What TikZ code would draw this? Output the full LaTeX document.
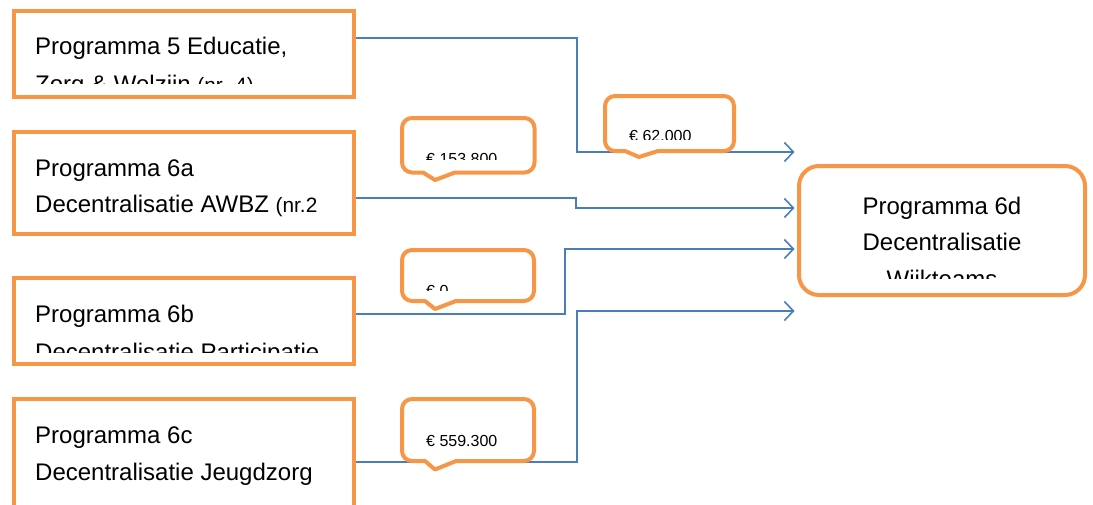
\documentclass[tikz,border=0pt]{standalone}
\usepackage{fontspec}
\setmainfont{Liberation Sans}
\usetikzlibrary{arrows.meta}
\definecolor{boxorange}{HTML}{F79646}
\definecolor{flowblue}{HTML}{4A7EBB}
\newcommand{\nrfont}{\fontsize{20.8}{24}\selectfont}

\begin{document}
\begin{tikzpicture}[x=1pt,y=-1pt]

    \tikzset{
      prog/.style={
        draw=boxorange,
        line width=4pt,
        fill=white,
        inner sep=0pt,
        minimum width=340pt,
      },
      txt/.style={
        anchor=base west,
        inner sep=0pt,
        font=\fontsize{24}{28}\selectfont,
      },
      sum/.style={
        anchor=base west,
        inner sep=0pt,
        font=\fontsize{16}{19}\selectfont,
      },
      flow/.style={
        draw=flowblue,
        line width=1.6pt,
        shorten >=2.5pt,
        -{Straight Barb[length=9pt,width=19pt]},
      },
      callout/.style={
        draw=boxorange,
        line width=4pt,
        fill=white,
        line join=round,
      },
    }
    \useasboundingbox (0,0) rectangle (1093,504);
    \clip (0,0) rectangle (1093,504);

	\node[prog, minimum height=86pt] (p5) at (184,54) {};
	\node[prog, minimum height=102pt] (p6a) at (184,183) {};
	\node[prog, minimum height=86pt] (p6b) at (184,321) {};
	\node[prog, minimum height=113pt] (p6c) at (184,455.5) {};
	\node[prog, minimum width=286pt, minimum height=129pt, rounded corners=20pt] (p6d) at (942,230.5) {};

	\node[txt] (t5) at (35,54) {Programma 5 Educatie,};
	\begin{scope}
	\clip (16,13) rectangle (352,83.3);
	\node[txt] (t5b) at (35,92) {Zorg \& Welzijn {\nrfont (nr. 4)}};
	\end{scope}
	\node[txt] (t6a) at (35,176) {Programma 6a};
	\node[txt] (t6ab) at (35,212.5) {Decentralisatie AWBZ {\nrfont (nr.2}};
	\node[txt] (t6b) at (35,322) {Programma 6b};
	\begin{scope}
	\clip (16,280) rectangle (352,352);
	\node[txt] (t6bb) at (35,360.5) {Decentralisatie Participatie};
	\end{scope}
	\node[txt] (t6c) at (35,443) {Programma 6c};
	\node[txt] (t6cb) at (35,480) {Decentralisatie Jeugdzorg};
	\node[txt, anchor=base] (t6d) at (942,214) {Programma 6d};
	\node[txt, anchor=base] (t6db) at (942,250) {Decentralisatie};
	\begin{scope}
	\clip (801,168) rectangle (1083,278.3);
	\node[txt, anchor=base] (t6dc) at (942,287) {Wijkteams};
	\end{scope}

	\draw[flow] (p5.east |- 0,38) -| (577,152) -- (p6d.west |- 0,152);
	\draw[flow] (p6a.east |- 0,198) -| (576,208) -- (p6d.west |- 0,208);
	\draw[flow] (p6b.east |- 0,314) -| (565,249) -- (p6d.west |- 0,249);
	\draw[flow] (p6c.east |- 0,462) -| (577,311) -- (p6d.west |- 0,311);

	\draw[callout] (423,172.5) -- (412,172.5) arc[start angle=90, end angle=180, radius=10] -- (402,128) arc[start angle=180, end angle=270, radius=10] -- (524.5,118) arc[start angle=270, end angle=360, radius=10] -- (534.5,162.5) arc[start angle=0, end angle=90, radius=10] -- (455,172.5) -- (435,180) -- cycle;
	\begin{scope}
	\clip (402,118) rectangle (534,159);
	\node[sum] (v6a) at (426,164.5) {€ 153.800};
	\end{scope}

	\draw[callout] (625,151) -- (615,151) arc[start angle=90, end angle=180, radius=10] -- (605,106) arc[start angle=180, end angle=270, radius=10] -- (724,96) arc[start angle=270, end angle=360, radius=10] -- (734,141) arc[start angle=0, end angle=90, radius=10] -- (658,151) -- (639,157) -- cycle;
	\begin{scope}
	\clip (605,96) rectangle (734,139.5);
	\node[sum] (v5) at (629,141.5) {€ 62.000};
	\end{scope}

	\draw[callout] (425,301) -- (412,301) arc[start angle=90, end angle=180, radius=10] -- (402,260) arc[start angle=180, end angle=270, radius=10] -- (524,250) arc[start angle=270, end angle=360, radius=10] -- (534,291) arc[start angle=0, end angle=90, radius=10] -- (456,301) -- (435,309) -- cycle;
	\begin{scope}
	\clip (402,250) rectangle (534,290.5);
	\node[sum] (v6b) at (426,296.5) {€ 0};
	\end{scope}

	\draw[callout] (425,461) -- (412,461) arc[start angle=90, end angle=180, radius=10] -- (402,409) arc[start angle=180, end angle=270, radius=10] -- (524,399) arc[start angle=270, end angle=360, radius=10] -- (534,451) arc[start angle=0, end angle=90, radius=10] -- (456,461) -- (435,469.5) -- cycle;
	\node[sum] (v6c) at (426,446.7) {€ 559.300};

\end{tikzpicture}
\end{document}
